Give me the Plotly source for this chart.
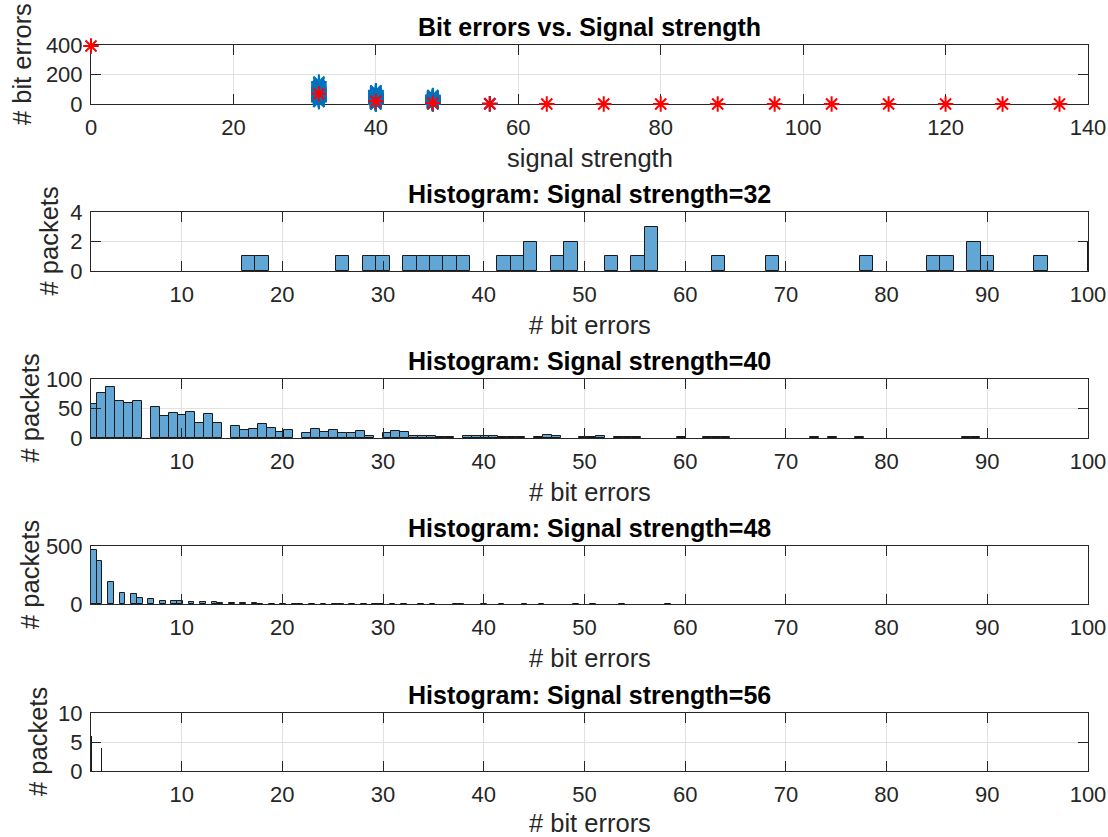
import numpy as np
import plotly.graph_objects as go

# ---------------- data ----------------
# top panel: mean bit errors per signal strength (red) and per-packet errors (blue)
RED_X = [0, 32, 40, 48, 56, 64, 72, 80, 88, 96, 104, 112, 120, 128, 136]
RED_Y = [393, 69, 18, 7, 1.4, 0, 0, 0, 0, 0, 0, 0, 0, 0, 0]

HIST_STRENGTHS = [32, 40, 48, 56]

# bit-error values (integers) and number of packets with that value
H32_VALUES = [17, 18, 26, 29, 30, 33, 34, 35, 37, 38, 42, 43, 45, 47, 49, 53, 55, 57,
              63, 69, 78, 85, 86, 89, 90, 95, 101, 108, 117, 126, 138, 149]
H32_COUNTS = [1, 1, 1, 1, 1, 1, 1, 1, 1, 1, 1, 1, 2, 1, 2, 1, 1, 3,
              1, 1, 1, 1, 1, 2, 1, 1, 2, 1, 1, 1, 1, 1]

H40_VALUES = list(range(1, 90))
H40_COUNTS = [57, 76, 86, 62, 59, 63, 53, 38, 42, 39,   # 1-10
              44, 26, 40, 25, 20, 14, 16, 24, 17, 10,   # 11-20
              14, 8, 15, 11, 13, 8, 8, 12, 3, 8,        # 21-30
              12, 10, 4, 3, 3, 2, 1, 4, 4, 4,           # 31-40
              3, 1, 2, 1, 2, 5, 3, 0, 0, 2,             # 41-50
              1, 4, 1, 1, 1, 0, 0, 0, 0, 1,             # 51-60
              0, 2, 1, 2, 0, 0, 0, 0, 0, 0,             # 61-70
              0, 0, 1, 0, 1, 0, 1, 0, 0, 0,             # 71-80
              0, 0, 0, 0, 0, 0, 0, 1, 1]                # 81-89

H48_VALUES = list(range(1, 59))
H48_COUNTS = [466, 371, 186, 94, 86, 51, 43, 23, 23, 23,  # 1-10
              20, 14, 14, 8, 10, 6, 6, 4, 4, 3,           # 11-20
              3, 2, 2, 2, 1, 2, 1, 1, 1, 1,               # 21-30
              1, 1, 0, 1, 1, 0, 1, 1, 0, 1,               # 31-40
              0, 1, 0, 1, 0, 1, 0, 0, 1, 0,               # 41-50
              1, 0, 0, 1, 0, 0, 0, 1]                     # 51-58

H56_VALUES = [1, 2]
H56_COUNTS = [6, 4]

# histogram bin definitions (100 bins over each data range)
H32_BINS = dict(start=16, end=150, size=4 / 3)
H40_BINS = dict(start=0.74, end=89.24, size=0.885)
H48_BINS = dict(start=1, end=58.57, size=0.57)
H56_BINS = dict(start=1, end=2.01, size=0.01)

TOP_XTICKS = [0, 20, 40, 60, 80, 100, 120, 140]
TOP_YTICKS = [0, 200, 400]
HIST_XTICKS = [10, 20, 30, 40, 50, 60, 70, 80, 90, 100]
HIST_YTICKS = [[0, 2, 4], [0, 50, 100], [0, 500], [0, 5, 10]]
HIST_YRANGES = [[0, 4], [0, 100], [0, 500], [0, 10]]

# ---------------- layout geometry ----------------
W, H = 1108, 837
FONT = "Liberation Sans, Arial, Helvetica, sans-serif"
AX_COLOR = "#262626"
GRID = "#e2e2e2"
BLUE = "#0072BD"
RED = "#FF0000"
FACE = "rgb(98,166,214)"

X_LEFT, X_RIGHT = 91, 1088
PANELS = [(45, 104), (212, 271), (379, 438), (546, 604), (713, 771)]  # (top, bottom) px
YLABEL_X = [22, 48, 30, 30, 38]
YLABEL_YC = [64, None, None, None, None]   # None -> centred on the axes
XLABEL_SHIFT = [-54, -54, -54, -54, -52]


def px_x(p):
    return p / W


def px_y(p):
    return 1 - p / H


fig = go.Figure()

# ---- top panel scatter ----
blue_sets = [
    (32, H32_VALUES, H32_COUNTS),
    (40, H40_VALUES, H40_COUNTS),
    (48, H48_VALUES, H48_COUNTS),
    (56, H56_VALUES, H56_COUNTS),
]
for s, vals, cnts in blue_sets:
    ys = [v for v, c in zip(vals, cnts) if c > 0]
    fig.add_trace(go.Scatter(
        x=[s] * len(ys), y=ys, mode="markers", cliponaxis=False,
        marker=dict(symbol="asterisk-open", size=13, color=BLUE,
                    line=dict(color=BLUE, width=2)),
        xaxis="x", yaxis="y", showlegend=False, hoverinfo="x+y"))

fig.add_trace(go.Scatter(
    x=RED_X, y=RED_Y, mode="markers", cliponaxis=False,
    marker=dict(symbol="asterisk-open", size=13, color=RED,
                line=dict(color=RED, width=2)),
    xaxis="x", yaxis="y", showlegend=False))

# ---- histograms ----
hist_sets = [
    (H32_VALUES, H32_COUNTS, H32_BINS),
    (H40_VALUES, H40_COUNTS, H40_BINS),
    (H48_VALUES, H48_COUNTS, H48_BINS),
    (H56_VALUES, H56_COUNTS, H56_BINS),
]
for i, (vals, cnts, bins) in enumerate(hist_sets):
    n = i + 2
    data = np.repeat(np.array(vals, dtype=float), np.array(cnts))
    if bins["size"] < 0.05:
        marker = dict(color="#1a1a1a", line=dict(width=0))
    else:
        marker = dict(color=FACE, line=dict(color="#1a1a1a", width=1))
    fig.add_trace(go.Histogram(
        x=data, xbins=bins, autobinx=False, marker=marker,
        xaxis=f"x{n}", yaxis=f"y{n}", showlegend=False))

axis_common = dict(
    showline=True, linecolor=AX_COLOR, linewidth=1, mirror="ticks",
    ticks="inside", ticklen=10, tickwidth=1, tickcolor=AX_COLOR,
    showgrid=True, gridcolor=GRID, gridwidth=1, zeroline=False,
    tickfont=dict(family=FONT, size=22, color=AX_COLOR),
    fixedrange=True, automargin=False,
)

layout = dict(
    template="none",
    width=W, height=H, margin=dict(l=0, r=0, t=0, b=0, autoexpand=False),
    paper_bgcolor="white", plot_bgcolor="white",
    bargap=0, showlegend=False, font=dict(family=FONT),
)

annotations = []
titles = ["Bit errors vs. Signal strength"] + [f"Histogram: Signal strength={s}" for s in HIST_STRENGTHS]
xlabels = ["signal strength"] + ["# bit errors"] * 4
ylabels = ["# bit errors"] + ["# packets"] * 4

for k, (top, bot) in enumerate(PANELS):
    suffix = "" if k == 0 else str(k + 1)
    xa = dict(axis_common, domain=[px_x(X_LEFT), px_x(X_RIGHT)], anchor="y" + suffix,
              ticklabelstandoff=4)
    ya = dict(axis_common, domain=[px_y(bot), px_y(top)], anchor="x" + suffix,
              ticklabelstandoff=3)
    if k == 0:
        xa.update(range=[0, 140], tickvals=TOP_XTICKS, layer="below traces")
        ya.update(range=[0, 400], tickvals=TOP_YTICKS, layer="below traces")
    else:
        xa.update(range=[1, 100], tickvals=HIST_XTICKS)
        ya.update(range=HIST_YRANGES[k - 1], tickvals=HIST_YTICKS[k - 1])
    layout["xaxis" + suffix] = xa
    layout["yaxis" + suffix] = ya

    xc = (px_x(X_LEFT) + px_x(X_RIGHT)) / 2
    annotations.append(dict(text=f"<b>{titles[k]}</b>", x=xc, y=px_y(top), xref="paper", yref="paper",
                            xanchor="center", yanchor="middle", yshift=18, showarrow=False,
                            font=dict(family=FONT, size=25, color="black")))
    annotations.append(dict(text=xlabels[k], x=xc, y=px_y(bot), xref="paper", yref="paper",
                            xanchor="center", yanchor="middle", yshift=XLABEL_SHIFT[k], showarrow=False,
                            font=dict(family=FONT, size=25.5, color=AX_COLOR)))
    yc = px_y(YLABEL_YC[k]) if YLABEL_YC[k] is not None else (px_y(top) + px_y(bot)) / 2
    annotations.append(dict(text=ylabels[k], x=px_x(YLABEL_X[k]), y=yc,
                            xref="paper", yref="paper", xanchor="center", yanchor="middle",
                            textangle=-90, showarrow=False,
                            font=dict(family=FONT, size=25.5, color=AX_COLOR)))

layout["annotations"] = annotations
fig.update_layout(**layout)

fig.write_html("out.html", config={"displayModeBar": False},
               post_script="document.body.style.margin='0';")
